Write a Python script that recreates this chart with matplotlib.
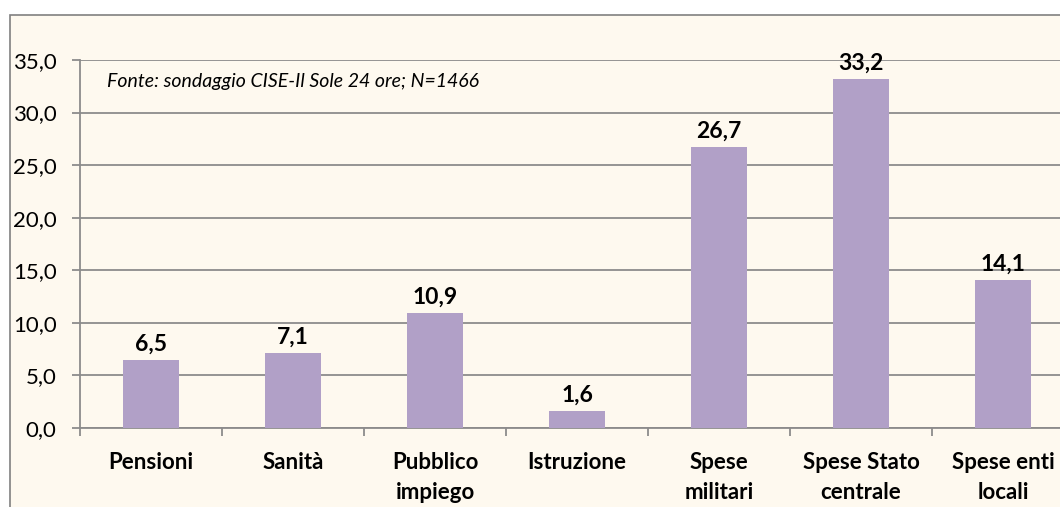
import numpy as np
import matplotlib.pyplot as plt
from matplotlib.patches import Rectangle

categories = ['Pensioni', 'Sanità', 'Pubblico\nimpiego', 'Istruzione',
              'Spese\nmilitari', 'Spese Stato\ncentrale', 'Spese enti\nlocali']
values = [6.5, 7.1, 10.9, 1.6, 26.7, 33.2, 14.1]
value_labels = ['6,5', '7,1', '10,9', '1,6', '26,7', '33,2', '14,1']
yticks = [0, 5, 10, 15, 20, 25, 30, 35]
ytick_labels = ['0,0', '5,0', '10,0', '15,0', '20,0', '25,0', '30,0', '35,0']
source = 'Fonte: sondaggio CISE-Il Sole 24 ore; N=1466'

plt.rcParams['font.family'] = ['Lato', 'DejaVu Sans']

W, H = 1060, 507
fig = plt.figure(figsize=(W / 100, H / 100), dpi=100)
fig.patch.set_facecolor('white')

# outer chart frame (cropped on the right and bottom)
frame = Rectangle((10 / W, -0.05), 1.1, (H - 15) / H + 0.05, transform=fig.transFigure,
                  facecolor='#FEF9EF', edgecolor='#808080', linewidth=1.2, zorder=-5)
fig.add_artist(frame)

ax = fig.add_axes([80 / W, (H - 428) / H, (1074 - 80) / W, (428 - 60) / H])
ax.set_facecolor('none')

x = np.arange(len(categories))
ax.bar(x, values, width=0.4, color='#B1A0C7', zorder=3)
for xi, v, lab in zip(x, values, value_labels):
    ax.text(xi, v + 0.5, lab, ha='center', va='bottom', fontsize=16.5, fontweight='bold')

ax.set_xlim(-0.5, len(categories) - 0.5)
ax.set_ylim(0, 35)
ax.set_yticks(yticks)
ax.set_yticklabels(ytick_labels, fontsize=16)
ax.yaxis.grid(True, color='#8C8C8C', linewidth=1.3, zorder=0)
ax.tick_params(axis='y', length=5.8, color='#8C8C8C', width=1.3, pad=11)

ax.set_xticks(x)
ax.set_xticklabels(categories, fontsize=16, fontweight='bold', linespacing=1.55)
ax.set_xticks(np.arange(len(categories) + 1) - 0.5, minor=True)
ax.tick_params(axis='x', which='major', length=0, pad=17)
ax.tick_params(axis='x', which='minor', length=5.8, color='#8C8C8C', width=1.3)

for s in ['top', 'right']:
    ax.spines[s].set_visible(False)
for s in ['left', 'bottom']:
    ax.spines[s].set_color('#8C8C8C')
    ax.spines[s].set_linewidth(1.3)

ax.text(0.027, 0.965, source, transform=ax.transAxes, fontsize=14, style='italic',
        va='top', ha='left')

fig.savefig('out.png', dpi=100)
